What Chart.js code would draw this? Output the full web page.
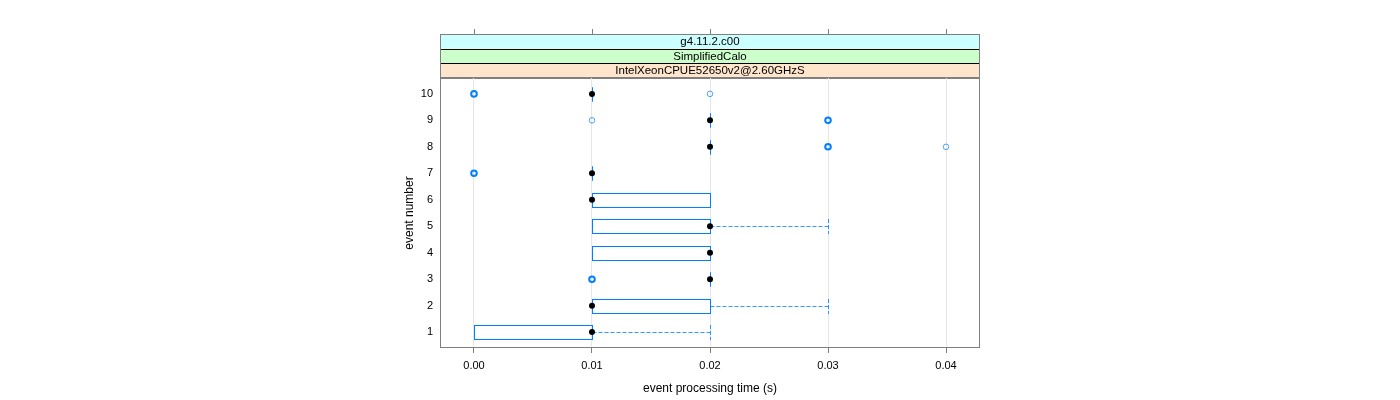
<!DOCTYPE html>
<html>
<head>
<meta charset="utf-8">
<script src="https://cdn.jsdelivr.net/npm/chart.js@4/dist/chart.umd.min.js"></script>
<style>
  html, body { margin: 0; padding: 0; background: #fff; }
  #wrap { width: 1400px; height: 400px; }
</style>
</head>
<body>
<div id="wrap"><canvas id="chart"></canvas></div>
<script>
// event number on y, processing time (s) on x
const events = [1, 2, 3, 4, 5, 6, 7, 8, 9, 10];
const boxLow = [0.00, 0.01, 0.02, 0.01, 0.01, 0.01, 0.01, 0.02, 0.02, 0.01];
const boxHigh = [0.01, 0.02, 0.02, 0.02, 0.02, 0.02, 0.01, 0.02, 0.02, 0.01];
const medians = [0.01, 0.01, 0.02, 0.02, 0.02, 0.01, 0.01, 0.02, 0.02, 0.01];
const whiskerHigh = [0.02, 0.03, 0.02, 0.02, 0.03, 0.02, 0.01, 0.02, 0.02, 0.01];

const outlierEvent = [3, 7, 8, 8, 9, 9, 10, 10];
const outlierTime = [0.01, 0.00, 0.03, 0.04, 0.01, 0.03, 0.00, 0.02];
const outlierCount = [2, 3, 2, 1, 1, 2, 3, 1];

const xTicks = [0.00, 0.01, 0.02, 0.03, 0.04];
const xTickLabels = ["0.00", "0.01", "0.02", "0.03", "0.04"];
const stripLabels = ["g4.11.2.c00", "SimplifiedCalo", "IntelXeonCPUE52650v2@2.60GHzS"];
const stripColors = ["#ccffff", "#ccffcc", "#ffe5cc"];

const blue = "#0080ff";
const frame = "#7f7f7f";
const FONT = "'Liberation Sans', Arial, sans-serif";
const STRIP_TOP = 34;

const boxPlugin = {
  id: "boxes",
  beforeDatasetsDraw(chart) {
    const ctx = chart.ctx, xs = chart.scales.x, ys = chart.scales.y;
    ctx.save();
    events.forEach((e, i) => {
      const yt = Math.round(ys.getPixelForValue(e + 0.26)), yb = Math.round(ys.getPixelForValue(e - 0.26));
      const yc = Math.round(ys.getPixelForValue(e)) + 0.5;
      const x1 = Math.round(xs.getPixelForValue(boxLow[i])), x2 = Math.round(xs.getPixelForValue(boxHigh[i]));
      ctx.setLineDash([]);
      ctx.strokeStyle = blue;
      ctx.lineWidth = 1;
      ctx.strokeRect(x1 + 0.5, yt + 0.5, x2 - x1, yb - yt);
      if (whiskerHigh[i] > boxHigh[i]) {
        const xw = Math.round(xs.getPixelForValue(whiskerHigh[i])) + 0.5;
        ctx.strokeStyle = "rgba(0,128,255,0.8)";
        ctx.setLineDash([4, 2]);
        ctx.beginPath();
        ctx.moveTo(x2 + 0.5, yc);
        ctx.lineTo(xw, yc);
        ctx.moveTo(xw, yt);
        ctx.lineTo(xw, yb + 1);
        ctx.stroke();
      }
    });
    ctx.restore();
  },
  beforeDraw(chart) {
    const ctx = chart.ctx, a = chart.chartArea, xs = chart.scales.x;
    ctx.save();
    const h = (a.top - STRIP_TOP) / 3;
    stripLabels.forEach((lab, k) => {
      const y0 = STRIP_TOP + k * h;
      ctx.fillStyle = stripColors[k];
      ctx.fillRect(a.left, y0, a.right - a.left, h);
      ctx.fillStyle = "#000";
      ctx.font = "11.5px " + FONT;
      ctx.textAlign = "center";
      ctx.textBaseline = "middle";
      ctx.fillText(lab, (a.left + a.right) / 2, y0 + h / 2 + 0.5);
      if (k > 0) {
        ctx.beginPath();
        ctx.moveTo(a.left, Math.round(y0) + 0.5);
        ctx.lineTo(a.right, Math.round(y0) + 0.5);
        ctx.strokeStyle = "#000";
        ctx.lineWidth = 1;
        ctx.stroke();
      }
    });
    ctx.beginPath();
    ctx.moveTo(a.left, Math.round(a.top) - 0.5);
    ctx.lineTo(a.right, Math.round(a.top) - 0.5);
    ctx.strokeStyle = "#000";
    ctx.stroke();
    // top tick marks above the strips
    ctx.beginPath();
    xTicks.forEach(v => {
      const x = Math.round(xs.getPixelForValue(v)) + 0.5;
      ctx.moveTo(x, STRIP_TOP - 5);
      ctx.lineTo(x, STRIP_TOP);
    });
    ctx.strokeStyle = frame;
    ctx.stroke();
    ctx.strokeRect(a.left + 0.5, STRIP_TOP + 0.5, a.right - a.left - 1, a.top - STRIP_TOP);
    ctx.restore();
  },
  afterDraw(chart) {
    const ctx = chart.ctx, a = chart.chartArea;
    ctx.save();
    ctx.strokeStyle = frame;
    ctx.lineWidth = 1;
    ctx.strokeRect(a.left + 0.5, a.top - 0.5, a.right - a.left - 1, a.bottom - a.top);
    ctx.restore();
  }
};

new Chart(document.getElementById("chart"), {
  type: "scatter",
  data: {
    datasets: [
      {
        label: "median",
        data: events.map((e, i) => ({ x: medians[i], y: e })),
        pointRadius: 3,
        pointBackgroundColor: "#000",
        pointBorderColor: "#000",
        pointBorderWidth: 0
      },
      {
        label: "outliers",
        data: outlierEvent.map((e, i) => ({ x: outlierTime[i], y: e })),
        pointRadius: 2.8,
        pointBackgroundColor: "rgba(0,0,0,0)",
        pointBorderColor: outlierCount.map(c => c > 1 ? blue : "rgba(0,128,255,0.7)"),
        pointBorderWidth: outlierCount.map(c => c > 1 ? 2 : 1)
      }
    ]
  },
  options: {
    responsive: true,
    maintainAspectRatio: false,
    animation: false,
    events: [],
    layout: { padding: { left: 380, right: 420, top: 78, bottom: 0 } },
    plugins: { legend: { display: false }, tooltip: { enabled: false } },
    scales: {
      x: {
        type: "linear",
        min: -0.00288,
        max: 0.04288,
        afterBuildTicks(s) { s.ticks = xTicks.map(v => ({ value: v })); },
        afterFit(s) { s.height = 52; },
        border: { display: false },
        grid: { color: "#e6e6e6", tickColor: frame, tickLength: 5, drawOnChartArea: true },
        ticks: {
          color: "#000",
          font: { family: FONT, size: 11 },
          padding: 6,
          maxRotation: 0,
          callback: (v) => xTickLabels[xTicks.indexOf(v)] ?? ""
        },
        title: { display: true, text: "event processing time (s)", color: "#000", font: { family: FONT, size: 12 }, padding: { top: 4 } }
      },
      y: {
        type: "linear",
        min: 0.4,
        max: 10.6,
        afterBuildTicks(s) { s.ticks = events.map(v => ({ value: v })); },
        afterFit(s) { s.width = 60; },
        border: { display: false },
        grid: { display: false, drawTicks: false },
        ticks: { color: "#000", font: { family: FONT, size: 11 }, padding: 7 },
        title: { display: true, text: "event number", color: "#000", font: { family: FONT, size: 12 }, padding: { top: 22 } }
      }
    }
  },
  plugins: [boxPlugin]
});
</script>
</body>
</html>
